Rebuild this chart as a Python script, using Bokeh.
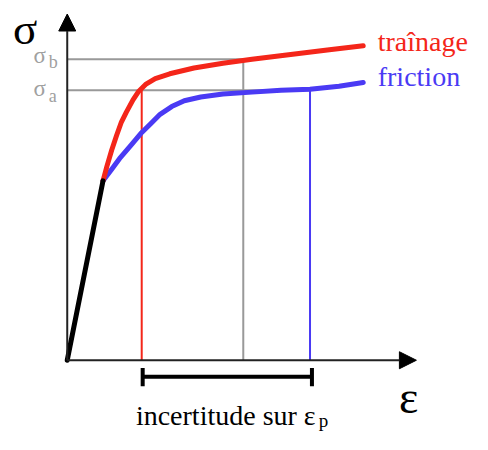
from bokeh.plotting import figure
from bokeh.models import Arrow, NormalHead, Range1d
from bokeh.core.properties import value
from bokeh.embed import file_html
from bokeh.resources import INLINE

# Data (strain, stress) in chart units
elastic_x = [0, 37]
elastic_y = [0, 186]

trainage_x = [37, 41, 46, 51, 56, 61, 68, 74, 81, 91, 106, 131, 161, 191, 231, 271, 306]
trainage_y = [186, 201, 218, 233, 247, 257, 270, 279, 286, 292, 297, 303, 308, 312, 317, 322, 326]

friction_x = [37, 46, 54, 66, 76, 86, 96, 108, 121, 138, 161, 191, 221, 251, 281, 306]
friction_y = [186, 198, 209, 223, 235, 245, 255, 263, 269, 273, 276, 278, 280, 281, 284, 288]

sigma_a = 280
sigma_b = 312
eps_trainage = 77
eps_mid = 182
eps_friction = 251

FONT = value("Liberation Serif")
RED = "#f4261a"
BLUE = "#4a3af4"
GRAY = "#a0a0a0"

p = figure(width=472, height=434, output_backend="svg", toolbar_location=None,
           x_range=Range1d(-69, 419), y_range=Range1d(-77, 373),
           min_border=0, min_border_left=0, min_border_right=0,
           min_border_top=0, min_border_bottom=0)
p.axis.visible = False
p.grid.visible = False
p.outline_line_color = None
p.background_fill_color = "white"
p.border_fill_color = "white"

# gray reference lines
p.line([0, eps_mid], [sigma_b, sigma_b], line_color="#999999", line_width=2)
p.line([0, eps_friction], [sigma_a, sigma_a], line_color="#999999", line_width=2)
p.line([eps_mid, eps_mid], [0, sigma_b], line_color="#999999", line_width=2)
p.line([eps_trainage, eps_trainage], [0, sigma_a], line_color=RED, line_width=2)
p.line([eps_friction, eps_friction], [0, sigma_a], line_color=BLUE, line_width=2)

# curves
p.line(friction_x, friction_y, line_color=BLUE, line_width=5, line_join="round", line_cap="round")
p.line(trainage_x, trainage_y, line_color=RED, line_width=5, line_join="round", line_cap="round")
p.line(elastic_x, elastic_y, line_color="black", line_width=5, line_join="round", line_cap="round")

# axes with arrows
p.add_layout(Arrow(end=NormalHead(size=17, fill_color="black", line_color="black"),
                   x_start=0, y_start=0, x_end=0, y_end=359, line_width=2, line_color="#222222"))
p.add_layout(Arrow(end=NormalHead(size=17, fill_color="black", line_color="black"),
                   x_start=0, y_start=0, x_end=361, y_end=0, line_width=2, line_color="#222222"))

# uncertainty bar
p.line([eps_trainage + 1, eps_friction + 2], [-17, -17], line_color="black", line_width=4)
p.line([eps_trainage + 1, eps_trainage + 1], [-8, -27], line_color="black", line_width=4)
p.line([eps_friction + 2, eps_friction + 2], [-8, -27], line_color="black", line_width=4)

# texts
p.text(x=[-56], y=[343], text=["σ"], text_font=FONT, text_font_size="45px",
       text_color="black", text_baseline="alphabetic")
p.text(x=[-35], y=[316], text=["σ"], text_font=FONT, text_font_size="23px",
       text_color=GRAY, text_baseline="alphabetic")
p.text(x=[-19], y=[309], text=["b"], text_font=FONT, text_font_size="18px",
       text_color=GRAY, text_baseline="alphabetic")
p.text(x=[-35], y=[282], text=["σ"], text_font=FONT, text_font_size="23px",
       text_color=GRAY, text_baseline="alphabetic")
p.text(x=[-19], y=[274], text=["a"], text_font=FONT, text_font_size="18px",
       text_color=GRAY, text_baseline="alphabetic")
p.text(x=[321], y=[331], text=["traînage"], text_font=FONT, text_font_size="28px",
       text_color=RED, text_baseline="alphabetic")
p.text(x=[321], y=[294], text=["friction"], text_font=FONT, text_font_size="28px",
       text_color=BLUE, text_baseline="alphabetic")
p.text(x=[343], y=[-39], text=["ε"], text_font=FONT, text_font_size="46px",
       text_color="black", text_baseline="alphabetic")
p.text(x=[71], y=[-57], text=["incertitude sur ε"], text_font=FONT, text_font_size="28px",
       text_color="black", text_baseline="alphabetic")
p.text(x=[260], y=[-62], text=["p"], text_font=FONT, text_font_size="19px",
       text_color="black", text_baseline="alphabetic")

open("out.html", "w").write(file_html(p, INLINE))
